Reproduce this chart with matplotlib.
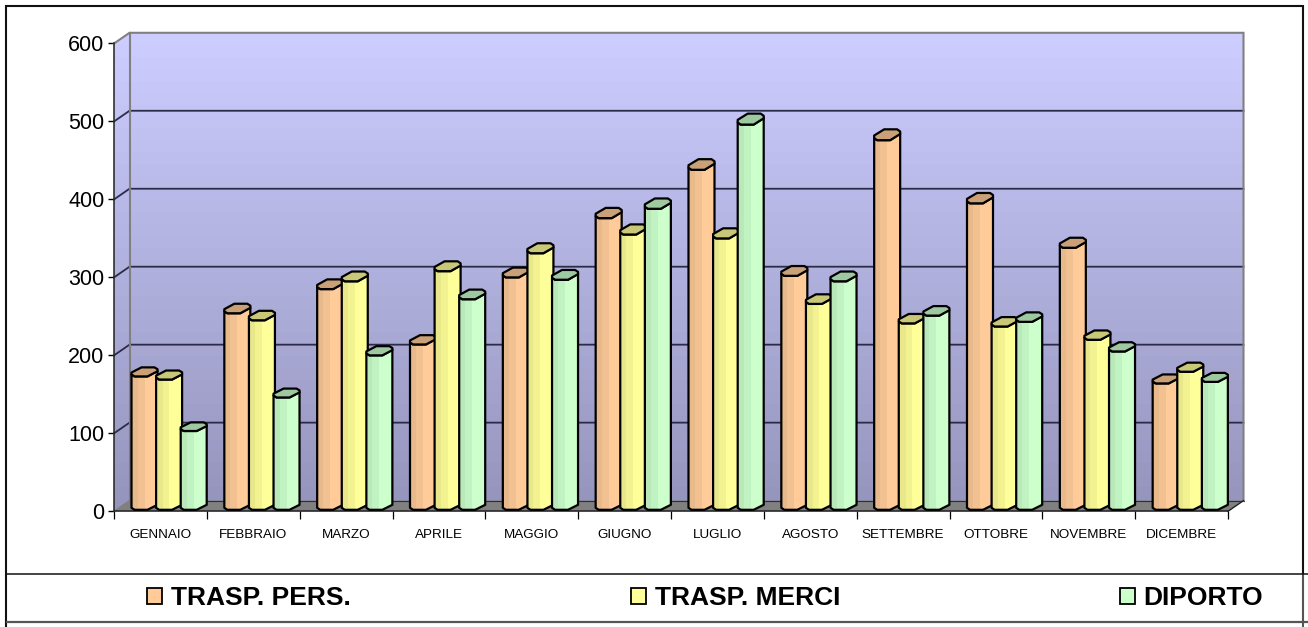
import numpy as np
import matplotlib
matplotlib.use("Agg")
import matplotlib.pyplot as plt
from matplotlib.patches import Polygon, Patch
from matplotlib.lines import Line2D

months = ["GENNAIO", "FEBBRAIO", "MARZO", "APRILE", "MAGGIO", "GIUGNO",
          "LUGLIO", "AGOSTO", "SETTEMBRE", "OTTOBRE", "NOVEMBRE", "DICEMBRE"]
trasp_pers = [173, 254, 285, 214, 300, 376, 438, 302, 476, 395, 338, 164]
trasp_merci = [169, 245, 295, 308, 331, 355, 350, 266, 241, 237, 220, 179]
diporto = [103, 146, 200, 272, 297, 388, 496, 295, 251, 243, 205, 166]
series_names = ["TRASP. PERS.", "TRASP. MERCI", "DIPORTO"]
y_ticks = [0, 100, 200, 300, 400, 500, 600]

W, H = 1308, 627
plt.rcParams["font.family"] = ["Liberation Sans", "DejaVu Sans"]
fig = plt.figure(figsize=(W / 100, H / 100), dpi=100, facecolor="white")

AX_L, AX_R, AX_Y0, AX_Y600 = 114, 1228, 511.3, 43.5
ax = fig.add_axes([AX_L / W, 1 - AX_Y0 / H, (AX_R - AX_L) / W, (AX_Y0 - AX_Y600) / H])
ax.set_xlim(0, 12)
ax.set_ylim(0, 600)
ax.set_autoscale_on(False)
ax.patch.set_visible(False)

PX = 12 / (AX_R - AX_L)              # data x per pixel
PY = 600 / (AX_Y0 - AX_Y600)         # data y per pixel
DX, DY = 15.5 * PX, 10.7 * PY        # depth of the 3D box


def clipped_image(rgb, extent, poly, z):
    im = ax.imshow(rgb, extent=extent, aspect="auto", origin="upper",
                   interpolation="nearest", zorder=z)
    patch = Polygon(poly, closed=True, transform=ax.transData)
    im.set_clip_path(patch)
    return im


# walls: vertical gradient, clipped to side wall + back wall
top_c = np.array([0xCC, 0xCC, 0xFF]) / 255
bot_c = np.array([0x94, 0x94, 0xBC]) / 255
n_bands = 40
t = np.linspace(1, 0, n_bands)[:, None, None]
grad = top_c[None, None, :] * (1 - t) + bot_c[None, None, :] * t
wall = [(0, 0), (DX, DY), (12 + DX, DY), (12 + DX, 600 + DY), (DX, 600 + DY), (0, 600)]
mesh = ax.pcolormesh([0, 12 + DX], np.linspace(0, 600 + DY, n_bands + 1), grad,
                     zorder=1, shading="flat", antialiased=False)
mesh.set_clip_path(Polygon(wall, closed=True, transform=ax.transData))
mesh.set_clip_box(None)
ax.add_patch(Polygon([(0, 0), (DX, DY), (12 + DX, DY), (12, 0)], closed=True,
                     facecolor="#808080", edgecolor="none", zorder=1.5, clip_on=False))

# gridlines
for v in y_ticks[1:-1]:
    ax.plot([0, DX, 12 + DX], [v, v + DY, v + DY], color="#2C2C48", lw=1.3,
            zorder=2, clip_on=False, solid_joinstyle="miter")
ax.plot([DX, 12 + DX], [DY, DY], color="#2C2C48", lw=0.8, zorder=2, clip_on=False)
ax.plot([0, DX, 12 + DX, 12 + DX], [600, 600 + DY, 600 + DY, DY], color="#808080", lw=1.5,
        zorder=2.1, clip_on=False, solid_joinstyle="miter")
ax.plot([DX, DX], [DY, 600 + DY], color="#808080", lw=1.5, zorder=2.1, clip_on=False)
ax.plot([0, DX], [0, DY], color="#808080", lw=1.0, zorder=2.1, clip_on=False)
ax.plot([12, 12 + DX], [0, DY], color="#222222", lw=1.0, zorder=2.1, clip_on=False)

# bars
BAR_W, BAR_PITCH, GROUP_OFF = 26, 24.6, 17.5
BASE = 1.5 * PY
bands = np.array([0.91, 0.95, 1.0, 1.0])
series = [trasp_pers, trasp_merci, diporto]
colors = ["#FFCC99", "#FFFF99", "#CCFFCC"]
top_colors = ["#C9A078", "#C8C878", "#9DC8A0"]
z = 3.0
for g in range(len(months)):
    for k, (vals, c, tc) in enumerate(zip(series, colors, top_colors)):
        v = vals[g]
        x0 = g + (GROUP_OFF + k * BAR_PITCH) * PX
        h = 8 + 3 * v / 500
        fx = lambda p: x0 + p * PX
        fy = lambda p: v + p * PY
        body = [(fx(0), fy(2)), (fx(0), BASE + 2 * PY), (fx(3), BASE), (fx(16), BASE),
                (fx(26), BASE + 5 * PY), (fx(26), fy(0.6 * h)), (fx(16), fy(0)), (fx(3), fy(0))]
        top = [(fx(0), fy(2)), (fx(3), fy(0)), (fx(16), fy(0)), (fx(26), fy(0.57 * h)),
               (fx(26), fy(0.8 * h)), (fx(23), fy(h)), (fx(10), fy(h)), (fx(0), fy(0.43 * h))]
        rgb = np.array(matplotlib.colors.to_rgb(c))
        strip = (bands[None, :, None] * rgb[None, None, :])
        clipped_image(strip, (fx(0), fx(26), 0, fy(h)), body, z)
        ax.add_patch(Polygon(body, closed=True, facecolor="none", edgecolor="black", lw=1.6,
                             zorder=z + 0.01, clip_on=False, joinstyle="round"))
        ax.add_patch(Polygon(top, closed=True, facecolor=tc, edgecolor="black", lw=1.6,
                             zorder=z + 0.02, clip_on=False, joinstyle="round"))
        z += 0.1

# axes furniture
for s in ("top", "right"):
    ax.spines[s].set_visible(False)
ax.spines["left"].set_color("#222222")
ax.spines["bottom"].set_color("#222222")
ax.spines["left"].set_linewidth(1.1)
ax.spines["bottom"].set_linewidth(1.1)
ax.spines["left"].set_zorder(50)
ax.spines["bottom"].set_zorder(2.5)
ax.set_yticks(y_ticks)
ax.tick_params(axis="y", length=4.6, width=1.0, pad=2.2, labelsize=15.5)
ax.set_xticks(range(13))
ax.set_xticklabels([])
ax.tick_params(axis="x", which="major", length=5.5, width=0.9)
ax.set_xticks(np.arange(len(months)) + 0.5, labels=months, minor=True)
ax.tick_params(axis="x", which="minor", length=0, pad=12.5, labelsize=9.7)

# legend
handles = [Patch(facecolor=c, edgecolor="black", linewidth=1.3) for c in colors]
fig.legend(handles, series_names, ncol=3, loc="lower left",
           bbox_to_anchor=(147 / W, 1 - 610 / H), borderpad=0, borderaxespad=0,
           frameon=False, prop={"family": "Liberation Sans", "weight": "bold", "size": 19},
           handlelength=0.57, handleheight=0.57, handletextpad=0.34, columnspacing=10.6)


# page table lines
def page_line(xs, ys, color="#111111", lw=1.5):
    fig.add_artist(Line2D([x / W for x in xs], [1 - y / H for y in ys],
                          color=color, lw=lw, transform=fig.transFigure,
                          solid_capstyle="butt"))


page_line([5, 1303], [6, 6])
page_line([6, 6], [5, 627])
page_line([1302.5, 1302.5], [5, 574])
page_line([1302.5, 1302.5], [574, 627], color="#555555")
page_line([6, 1308], [574, 574], lw=1.1)
page_line([6, 1308], [622, 622], color="#555555", lw=1.6)

fig.savefig("out.png", dpi=100, facecolor="white")
